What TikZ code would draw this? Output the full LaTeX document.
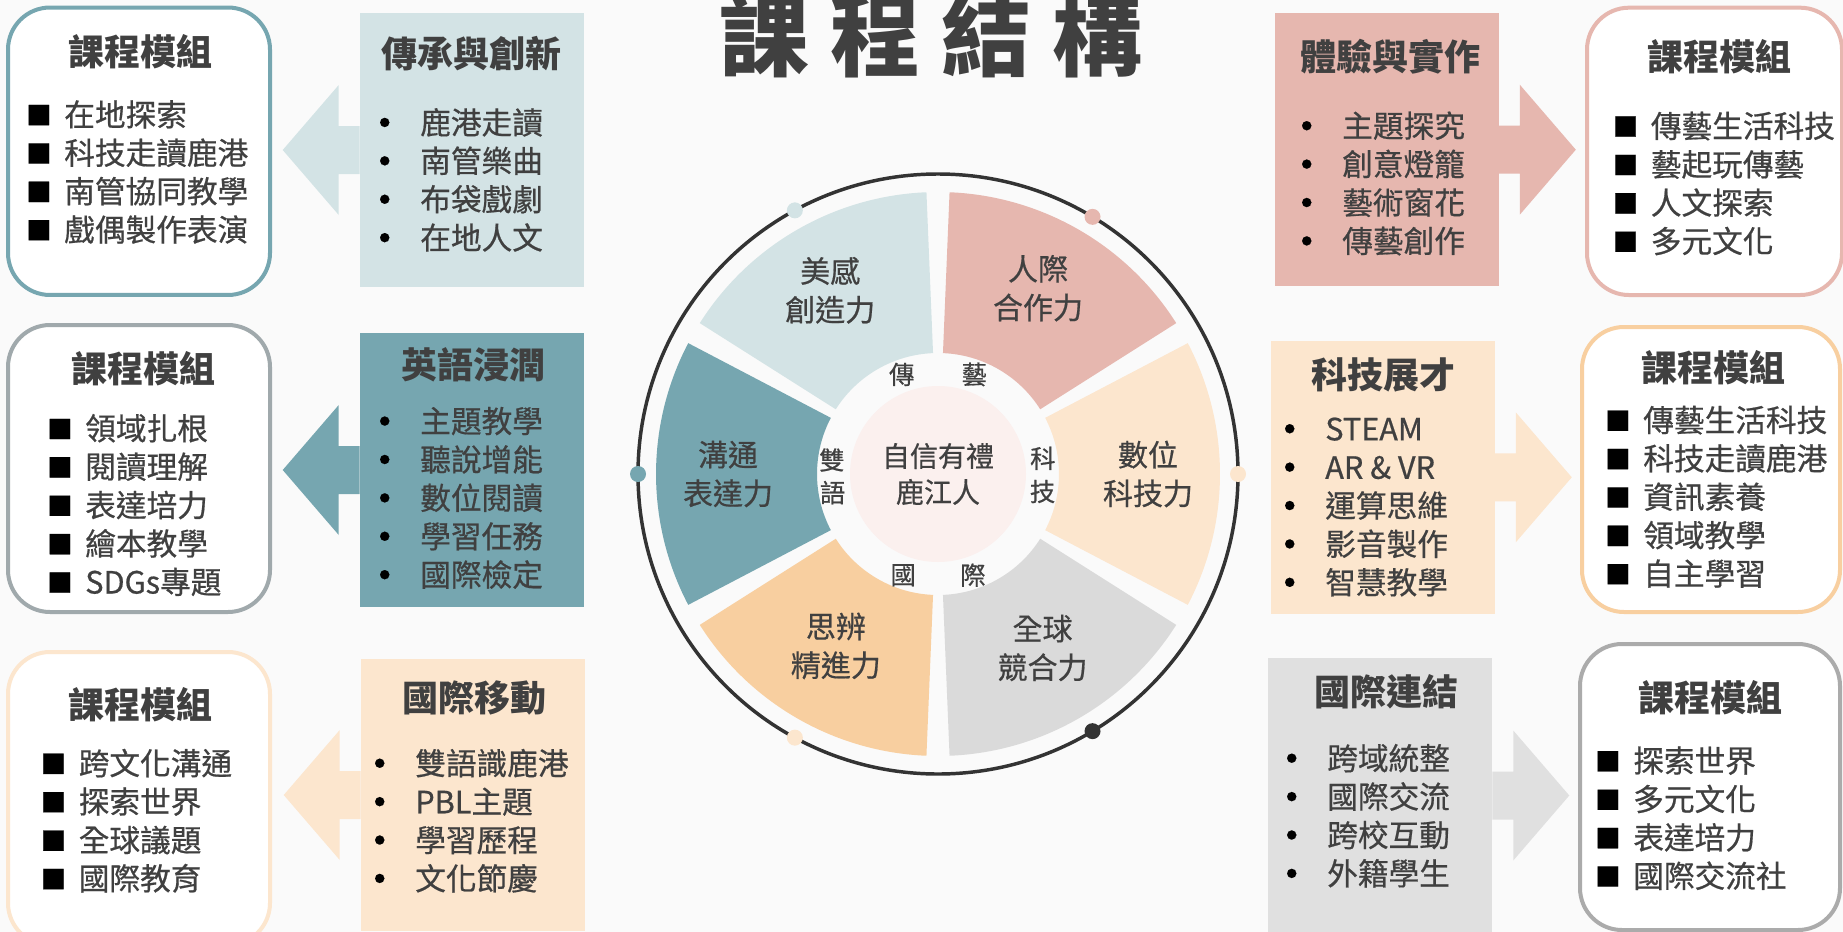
\documentclass[tikz,border=0pt]{standalone}
\usepackage{fontspec}
\setmainfont{Noto Sans CJK TC}
\usepackage{tikz}
\usetikzlibrary{calc, positioning}

\definecolor{cbg}{HTML}{FAFAFA}
\definecolor{ctext}{HTML}{404040}
\definecolor{cteal}{HTML}{76A6B0}
\definecolor{cblue}{HTML}{D3E3E5}
\definecolor{cpink}{HTML}{E6B7AF}
\definecolor{cpeach}{HTML}{FCE6CE}
\definecolor{corange}{HTML}{F8CFA0}
\definecolor{cgrey}{HTML}{DADADA}
\definecolor{clgrey}{HTML}{E0E0E0}
\definecolor{cslate}{HTML}{A0A9AC}
\definecolor{cmgrey}{HTML}{ABABAB}
\definecolor{cring}{HTML}{333333}
\definecolor{ccore}{HTML}{FBF0EE}

\newcommand{\mk}[1]{\makebox[28.5pt][l]{\textcolor{black}{#1}}}
\newcommand{\sq}{\mk{\raisebox{1pt}{\fontsize{19}{19}\selectfont ■}}}
\newcommand{\bu}{\mk{\hspace{-2pt}\raisebox{5.8pt}{\fontsize{7.7}{7.7}\selectfont ●}}}
\newcommand{\tsp}{\hspace{15.75pt}}
\newcommand{\med}{\addfontfeature{FakeBold=0.6}}
% colour, tail anchor, direction (1 right, -1 left)
\newcommand{\blockarrow}[3]{%
  \fill[#1] (#2) -- ++(0,-24) -- ++(#3*21,0) -- ++(0,-41) -- ++(#3*56,65) -- ++({-(#3)*56},65) -- ++(0,-41) -- ++({-(#3)*21},0) -- cycle;}

\tikzset{
  modbox/.style={draw, line width=3pt, fill=white, rounded corners=31.5pt, inner sep=0},
  topic/.style={inner sep=0},
  head/.style={inner sep=0, text=ctext, font=\bfseries\fontsize{27}{32}\selectfont},
  lst/.style={anchor=west, align=left, inner sep=0, text=ctext, font=\fontsize{23}{28.8}\selectfont\med},
  seclabel/.style={align=center, inner sep=0, text=ctext, font=\fontsize{22.5}{29}\selectfont\med},
  ringchar/.style={inner sep=0, text=ctext, font=\fontsize{19}{19}\selectfont\med},
}

\begin{document}
\begin{tikzpicture}[x=0.75pt,y=0.75pt,yscale=-1,xscale=1]
		\useasboundingbox (0,0) rectangle (1843,932);
		\clip (0,0) rectangle (1843,932);
		\fill[cbg] (0,0) rectangle (1843,932);

		% Title
		\node[inner sep=0, anchor=base, text=ctext, font=\bfseries\fontsize{67.5}{70}\selectfont] (title) at (931,69) {課\tsp 程\tsp 結\tsp 構};

		%Shape: module boxes, left
		\node[modbox, draw=cteal, minimum width=196.5pt, minimum height=215.6pt] (modA) at (139,151.25) {};
		\node[modbox, draw=cslate, minimum width=196.5pt, minimum height=215.25pt] (modB) at (139,468.5) {};
		\node[modbox, draw=cpeach, minimum width=196.5pt, minimum height=219.75pt] (modC) at (139,798.5) {};
		%Shape: module boxes, right
		\node[modbox, draw=cpink, minimum width=191.25pt, minimum height=215.5pt] (modD) at (1714.5,151.35) {};
		\node[modbox, draw=corange, minimum width=193.5pt, minimum height=213.75pt] (modE) at (1711,469.5) {};
		\node[modbox, draw=cmgrey, minimum width=195pt, minimum height=214.5pt] (modF) at (1710,787) {};

		%Shape: topic boxes
		\node[topic, fill=cblue, minimum width=168pt, minimum height=205.5pt] (heritage) at (472,150) {};
		\node[topic, fill=cteal, minimum width=168pt, minimum height=205.5pt] (english) at (472,470) {};
		\node[topic, fill=cpeach, minimum width=168pt, minimum height=204pt] (mobility) at (473,795) {};
		\node[topic, fill=cpink, minimum width=167.3pt, minimum height=204.5pt] (practice) at (1387,149.7) {};
		\node[topic, fill=cpeach, minimum width=168pt, minimum height=205pt] (techtal) at (1382.5,477.3) {};
		\node[topic, fill=clgrey, minimum width=168pt, minimum height=206.25pt] (linkage) at (1380,795.5) {};

		%Block arrows
		\blockarrow{cblue}{heritage.west}{-1}
		\blockarrow{cteal}{english.west}{-1}
		\blockarrow{cpeach}{mobility.west}{-1}
		\blockarrow{cpink}{practice.east}{1}
		\blockarrow{cpeach}{techtal.east}{1}
		\blockarrow{clgrey}{linkage.east}{1}

		% Text Node: headings
		\node[head] (hA) at (140,52) {課程模組};
		\node[head] (hB) at (143.5,369) {課程模組};
		\node[head] (hC) at (140,705) {課程模組};
		\node[head] (hD) at (1719.5,57) {課程模組};
		\node[head] (hE) at (1713,368) {課程模組};
		\node[head] (hF) at (1710,698) {課程模組};
		\node[head] (hher) at (471,54) {傳承與創新};
		\node[head] (heng) at (473,365) {英語浸潤};
		\node[head] (hmob) at (474.5,698) {國際移動};
		\node[head] (hpra) at (1390,57) {體驗與實作};
		\node[head] (htec) at (1383,375) {科技展才};
		\node[head] (hlin) at (1386.5,692) {國際連結};

		% Text Node: lists
		\node[lst] (lA) at (26,172) {\sq 在地探索\\\sq 科技走讀鹿港\\\sq 南管協同教學\\\sq 戲偶製作表演};
		\node[lst] (lB) at (47,505) {\sq 領域扎根\\\sq 閱讀理解\\\sq 表達培力\\\sq 繪本教學\\\sq SDGs專題};
		\node[lst] (lC) at (40.5,820.75) {\sq 跨文化溝通\\\sq 探索世界\\\sq 全球議題\\\sq 國際教育};
		\node[lst] (lher) at (382,179.9) {\bu 鹿港走讀\\\bu 南管樂曲\\\bu 布袋戲劇\\\bu 在地人文};
		\node[lst] (leng) at (382,497.9) {\bu 主題教學\\\bu 聽說增能\\\bu 數位閱讀\\\bu 學習任務\\\bu 國際檢定};
		\node[lst] (lmob) at (377,820.75) {\bu 雙語識鹿港\\\bu PBL主題\\\bu 學習歷程\\\bu 文化節慶};
		\node[lst] (lpra) at (1304,183.5) {\bu 主題探究\\\bu 創意燈籠\\\bu 藝術窗花\\\bu 傳藝創作};
		\node[lst] (ltec) at (1287,507) {\bu STEAM\\\bu AR \& VR\\\bu 運算思維\\\bu 影音製作\\\bu 智慧教學};
		\node[lst] (llin) at (1289,815.75) {\bu 跨域統整\\\bu 國際交流\\\bu 跨校互動\\\bu 外籍學生};
		\node[lst] (lD) at (1612.6,183.5) {\sq 傳藝生活科技\\\sq 藝起玩傳藝\\\sq 人文探索\\\sq 多元文化};
		\node[lst] (lE) at (1605,496.8) {\sq 傳藝生活科技\\\sq 科技走讀鹿港\\\sq 資訊素養\\\sq 領域教學\\\sq 自主學習};
		\node[lst] (lF) at (1595,818.25) {\sq 探索世界\\\sq 多元文化\\\sq 表達培力\\\sq 國際交流社};

		%Wheel
		\begin{scope}[shift={(938,474)}]
			\draw[cring, line width=2.6pt] (0,0) circle[radius=300];
			\foreach \a/\col in {-120/cblue, -60/cpink, 0/cpeach, 60/cgrey, 120/corange, 180/cteal}
				\fill[\col] (\a-27.65:121) arc[start angle=\a-27.65, end angle=\a+27.65, radius=121]
					-- (\a+27.65:282) arc[start angle=\a+27.65, end angle=\a-27.65, radius=282] -- cycle;
			\foreach \a/\col in {-118.5/cblue, -59/cpink, 180/cteal, 0/cpeach, 118.5/cpeach, 59/cring}
				\fill[\col] (\a:300) circle[radius=8];
			\fill[ccore] (0,0) circle[radius=88];

			% Text Node: sectors
			\node[seclabel] (saes) at (-120.4:213) {美感\\創造力};
			\node[seclabel] (scoop) at (-61.7:211) {人際\\合作力};
			\node[seclabel] (sdigi) at (0:210) {數位\\科技力};
			\node[seclabel] (sglob) at (59:203) {全球\\競合力};
			\node[seclabel] (scrit) at (120.7:200) {思辨\\精進力};
			\node[seclabel] (scomm) at (180:210) {溝通\\表達力};
			\node[seclabel, font=\fontsize{21}{27}\selectfont\med] (core) at (0,0) {自信有禮\\鹿江人};

			% Text Node: ring
			\node[ringchar] (rchuan) at (-110:106) {傳};
			\node[ringchar] (ryi) at (-70:106) {藝};
			\node[ringchar] (rshuang) at (-172.5:107) {雙};
			\node[ringchar] (ryu) at (170:107) {語};
			\node[ringchar] (rke) at (-8.5:106) {科};
			\node[ringchar] (rji) at (9.5:106) {技};
			\node[ringchar] (rguo) at (109:107) {國};
			\node[ringchar] (rjiy) at (71:107) {際};
		\end{scope}

	\end{tikzpicture}
\end{document}
